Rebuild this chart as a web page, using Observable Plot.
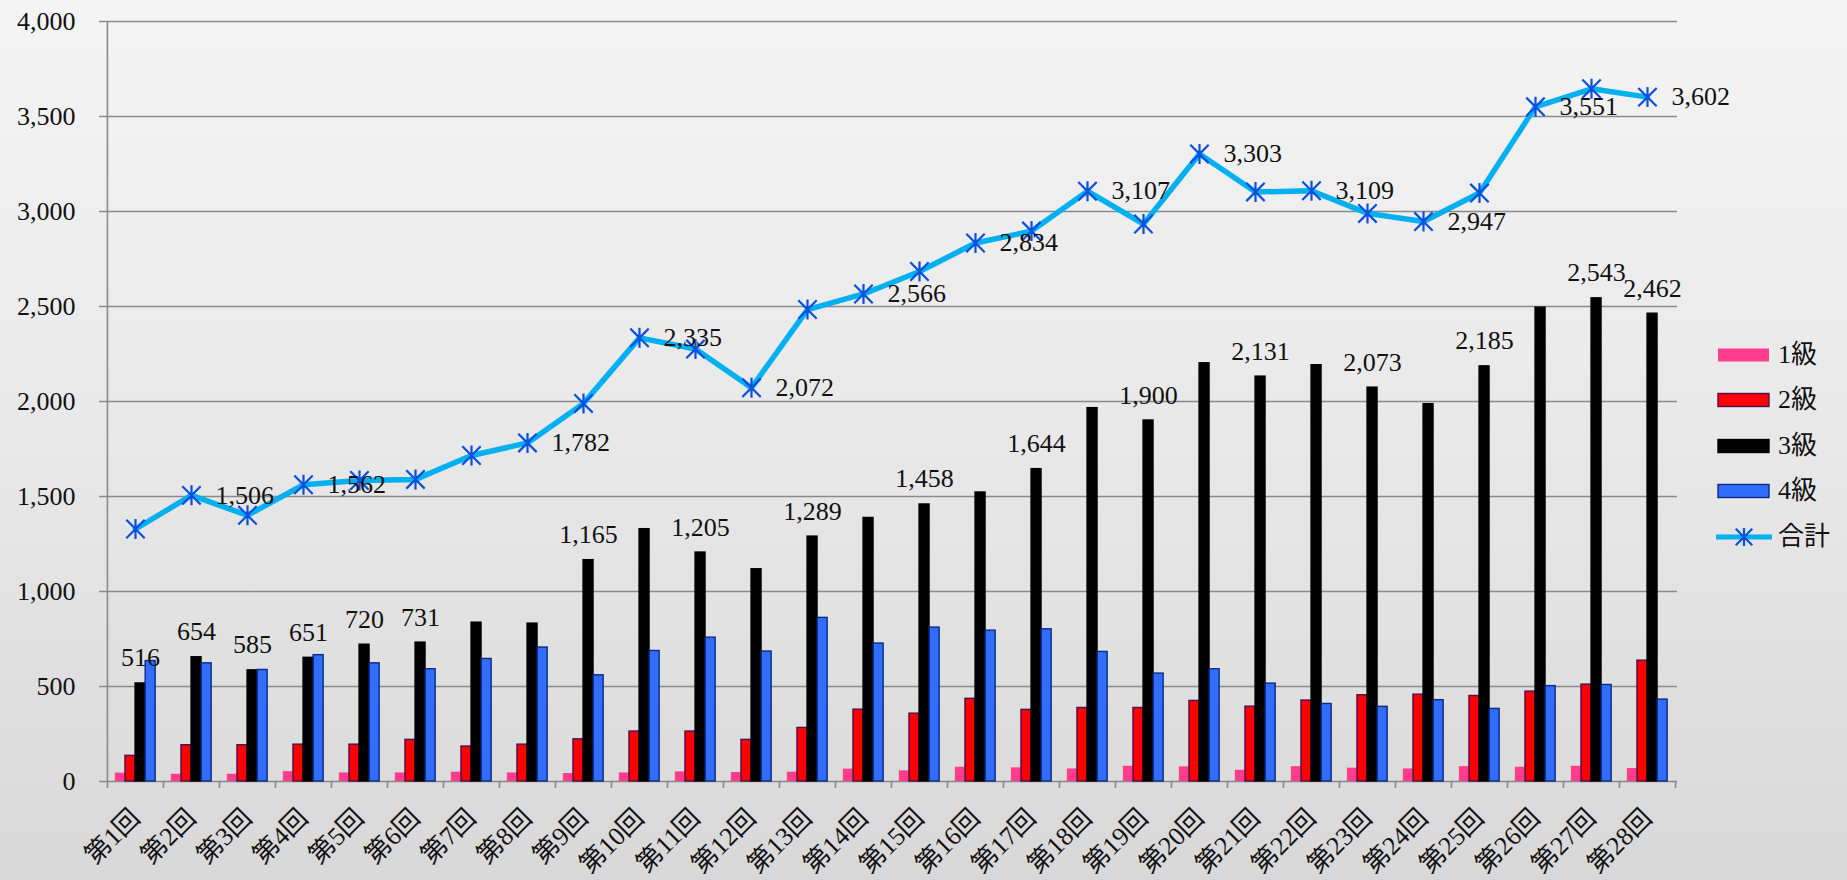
<!DOCTYPE html>
<html><head><meta charset="utf-8">
<script src="https://cdn.jsdelivr.net/npm/d3@7"></script>
<script src="https://cdn.jsdelivr.net/npm/@observablehq/plot@0.6"></script>
<style>
html,body{margin:0;padding:0;}
body{width:1847px;height:880px;overflow:hidden;background:linear-gradient(to bottom,#f4f4f4 0%,#e8e8e8 50%,#d8d8d8 100%);font-family:"Liberation Serif","Noto Sans CJK JP",serif;}
#wrap{position:relative;width:1847px;height:880px;}
#legend{position:absolute;left:1716px;top:332px;}
.row{display:flex;align-items:center;height:45.5px;font-size:26px;color:#111;line-height:1;font-family:"Liberation Serif","Noto Sans CJK JP",serif;}
.row svg{margin-right:6px;display:block;}
svg text{font-family:"Liberation Serif","Noto Sans CJK JP",serif;}
</style></head><body><div id="wrap"><div id="chart"></div><div id="legend"></div></div>
<script>
// ---- data ----
const categories = ["第1回","第2回","第3回","第4回","第5回","第6回","第7回","第8回","第9回","第10回","第11回","第12回","第13回","第14回","第15回","第16回","第17回","第18回","第19回","第20回","第21回","第22回","第23回","第24回","第25回","第26回","第27回","第28回"];
const seriesNames = ["1級","2級","3級","4級","合計"];
const grade1 = [44,38,38,52,45,45,49,45,42,45,51,47,49,65,56,75,72,66,80,77,59,78,70,66,78,75,80,68];
const grade2 = [135,191,191,194,194,219,184,194,222,263,263,219,282,378,357,435,377,387,387,424,394,426,454,457,450,473,510,636];
const grade3 = [516,654,585,651,720,731,836,831,1165,1328,1205,1117,1289,1387,1458,1521,1644,1965,1900,2201,2131,2191,2073,1986,2185,2494,2543,2462];
const grade4 = [634,622,587,665,622,591,645,705,559,687,757,684,861,726,810,794,801,682,568,591,515,408,393,428,382,502,508,431];
const total  = [1329,1506,1401,1562,1584,1590,1716,1782,1990,2335,2276,2072,2484,2566,2684,2834,2897,3107,2934,3303,3103,3109,2990,2947,3097,3551,3646,3602];
// rounds (1-based) whose values carry a data label
const totalLabelRounds  = [2,4,8,10,12,14,16,18,20,22,24,26,28];
const grade3LabelRounds = [1,2,3,4,5,6,9,11,13,15,17,19,21,23,25,27,28];
const yTicks = [0,500,1000,1500,2000,2500,3000,3500,4000];

// ---- styles ----
const colors = {g1:"#ff3d8c", g2:"#ff0000", g3:"#000000", g4:"#2f6dff", line:"#00b0f0", marker:"#0a4fe0", grid:"#8a8a8a"};
const strokes = {g1:"none", g2:"#4a1050", g3:"#000000", g4:"#0c2a80"};
const W = 1847, H = 880, ML = 105, MR = 170, MT = 21, MB = 99;
const bw = (W - ML - MR) / categories.length;
const groupStart = 0.14, barFrac = 0.18;
const fmt = d3.format(",");
const font = "Liberation Serif, Noto Sans CJK JP, serif";

const starSymbol = {draw(ctx, size){
  const r = Math.sqrt(size/Math.PI), t = r*0.92;
  ctx.moveTo(0,-r); ctx.lineTo(0,r);
  ctx.moveTo(-t,-t); ctx.lineTo(t,t);
  ctx.moveTo(-t,t); ctx.lineTo(t,-t);
}};

const seriesDefs = [
  {vals: grade1, fill: colors.g1, stroke: strokes.g1},
  {vals: grade2, fill: colors.g2, stroke: strokes.g2},
  {vals: grade3, fill: colors.g3, stroke: strokes.g3},
  {vals: grade4, fill: colors.g4, stroke: strokes.g4}
];

const barMarks = seriesDefs.map((s,k) => Plot.barY(categories, {
  x: d => d,
  y: (d,i) => s.vals[i],
  fill: s.fill,
  stroke: s.stroke,
  strokeWidth: 1.4,
  insetLeft: bw*(groupStart + barFrac*k),
  insetRight: bw*(1 - groupStart - barFrac*(k+1))
}));

const idx = categories.map((d,i)=>i);
const totalLabelIdx = totalLabelRounds.map(r=>r-1);
const g3LabelIdx = grade3LabelRounds.map(r=>r-1);
const txt = {fontSize: 26, fill: "#111", fontFamily: font};

const chart = Plot.plot({
  width: W, height: H,
  marginLeft: ML, marginRight: MR, marginTop: MT, marginBottom: MB,
  style: {background: "transparent", fontFamily: font, fontSize: "26px", color: "#111"},
  x: {type: "band", domain: categories, padding: 0, axis: null},
  y: {domain: [0,4000], axis: null},
  marks: [
    Plot.ruleY(yTicks, {stroke: colors.grid, strokeWidth: 1.6, insetLeft: -6}),
    Plot.ruleX([categories[0]], {x: d=>d, y1: 0, y2: 4000, dx: -bw/2, stroke: colors.grid, strokeWidth: 1.6}),
    Plot.ruleX(categories, {x: d=>d, y1: 0, y2: 0, dx: -bw/2, insetBottom: -7, stroke: colors.grid, strokeWidth: 1.6}),
    Plot.ruleX([categories[categories.length-1]], {x: d=>d, y1: 0, y2: 0, dx: bw/2, insetBottom: -7, stroke: colors.grid, strokeWidth: 1.6}),
    Plot.text(yTicks, {y: d=>d, text: d=>fmt(d), frameAnchor: "left", dx: -30, textAnchor: "end", lineAnchor: "middle", ...txt}),
    Plot.text(categories, {x: d=>d, frameAnchor: "bottom", dx: 6, dy: 38, rotate: -45, textAnchor: "end", lineAnchor: "bottom", text: d=>d, ...txt}),
    ...barMarks,
    Plot.line(idx, {x: i=>categories[i], y: i=>total[i], stroke: colors.line, strokeWidth: 5.5, strokeLinejoin: "round", strokeLinecap: "round"}),
    Plot.dot(idx, {x: i=>categories[i], y: i=>total[i], symbol: starSymbol, r: 10, stroke: colors.marker, strokeWidth: 2.2, fill: "none"}),
    Plot.text(totalLabelIdx, {x: i=>categories[i], y: i=>total[i], text: i=>fmt(total[i]), dx: 24, textAnchor: "start", lineAnchor: "middle", ...txt}),
    Plot.text(g3LabelIdx, {x: i=>categories[i], y: i=>grade3[i], text: i=>fmt(grade3[i]), dx: bw*(groupStart + barFrac*2.5 - 0.5), dy: -17, textAnchor: "middle", lineAnchor: "bottom", ...txt})
  ]
});
document.getElementById("chart").appendChild(chart);

// ---- legend ----
const legend = document.getElementById("legend");
const legendDefs = [
  {name: seriesNames[0], fill: colors.g1, stroke: "none"},
  {name: seriesNames[1], fill: colors.g2, stroke: strokes.g2},
  {name: seriesNames[2], fill: colors.g3, stroke: strokes.g3},
  {name: seriesNames[3], fill: colors.g4, stroke: strokes.g4},
  {name: seriesNames[4], line: true}
];
legendDefs.forEach(def => {
  const row = document.createElement("div"); row.className = "row";
  const svg = d3.create("svg").attr("width", 56).attr("height", 24);
  if (def.line) {
    svg.append("line").attr("x1",1).attr("x2",55).attr("y1",12).attr("y2",12).attr("stroke",colors.line).attr("stroke-width",5).attr("stroke-linecap","round");
    const p = d3.path(); starSymbol.draw(p, Math.PI*81);
    svg.append("path").attr("d", p.toString()).attr("transform","translate(28,12)").attr("stroke",colors.marker).attr("stroke-width",2.2).attr("fill","none");
  } else {
    svg.append("rect").attr("x",2).attr("y",5.5).attr("width",51).attr("height",13).attr("fill",def.fill).attr("stroke",def.stroke).attr("stroke-width",1.4);
  }
  row.appendChild(svg.node());
  const span = document.createElement("span"); span.textContent = def.name;
  row.appendChild(span);
  legend.appendChild(row);
});
</script></body></html>
